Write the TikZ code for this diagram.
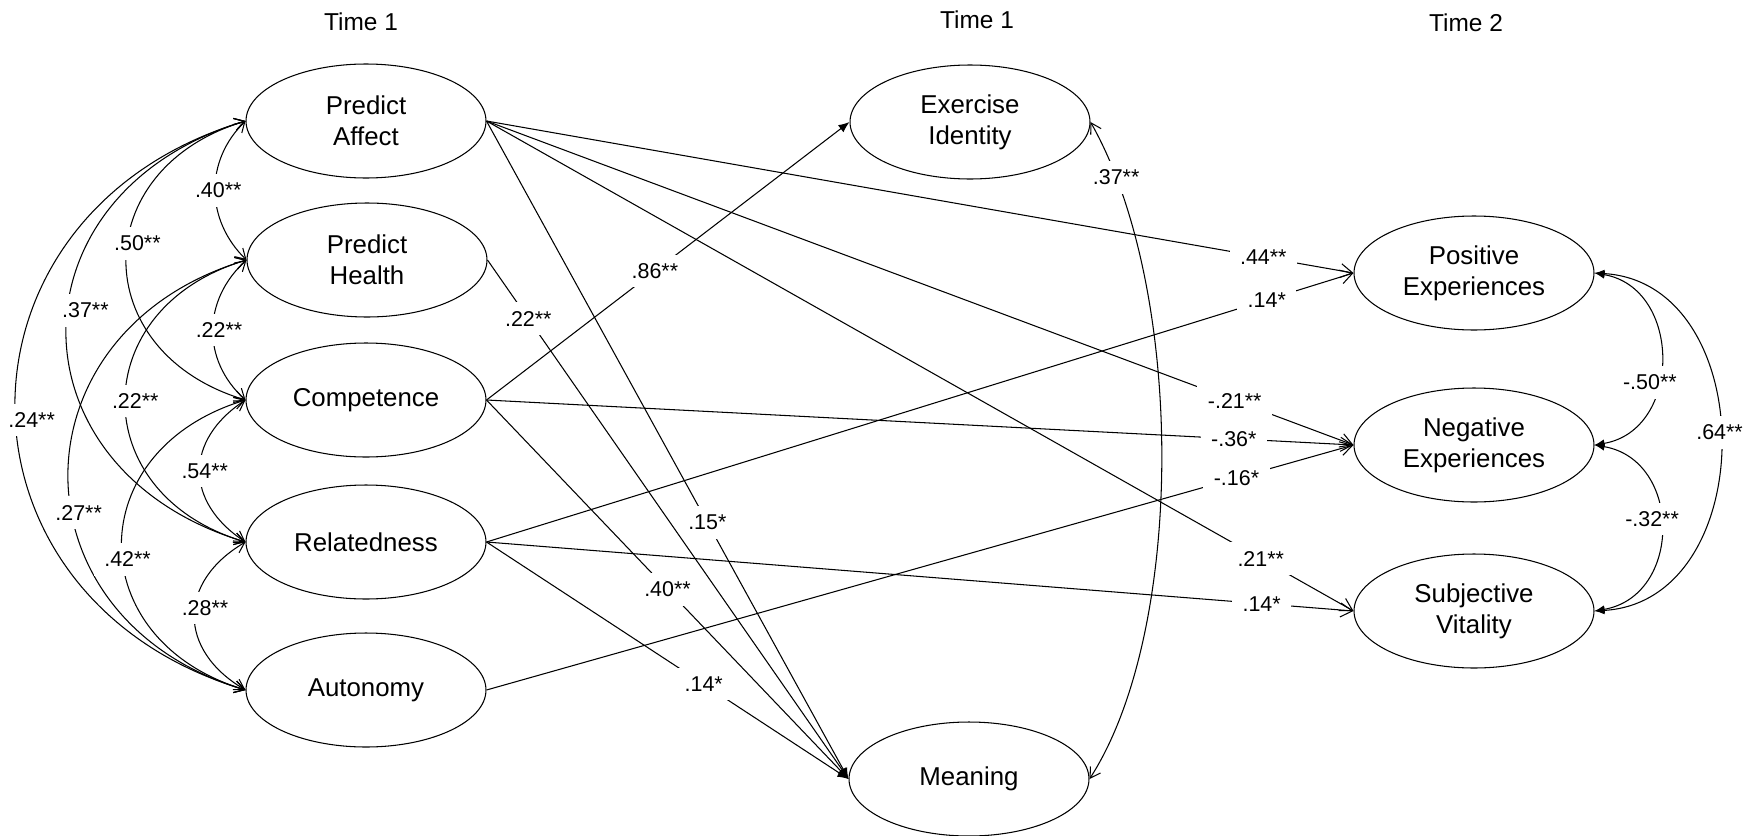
\documentclass[tikz,border=0pt]{standalone}
\usepackage{fontspec}
\setmainfont{Liberation Sans}
\usetikzlibrary{shapes.geometric,arrows.meta}

\tikzset{
  factor/.style={draw, ellipse, minimum width=4.8cm, minimum height=2.28cm,
    inner sep=0pt, align=center, font=\fontsize{14.7}{17.6}\selectfont},
  heading/.style={font=\fontsize{13.9}{16}\selectfont},
  coef/.style={fill=white, inner xsep=6pt, inner ysep=5pt, font=\fontsize{12.2}{14}\selectfont},
  reg/.style={-{Straight Barb[length=2.4mm,width=2.8mm]}},
  regf/.style={-{Latex[length=2.2mm,width=1.8mm]}},
  cov/.style={{Straight Barb[length=2mm,width=2.4mm]}-{Straight Barb[length=2mm,width=2.4mm]}},
  covf/.style={{Latex[length=2mm,width=1.6mm]}-{Latex[length=2mm,width=1.6mm]}},
  lx/.style={xshift=#1*0.02cm},
}

\begin{document}
\begin{tikzpicture}[x=0.02cm, y=-0.02cm, line width=0.6pt]
\useasboundingbox (0,0) rectangle (1754,835);

% headings
\node[heading] (hdA) at (361,22) {Time 1};
\node[heading] (hdB) at (977,20) {Time 1};
\node[heading] (hdC) at (1466,23) {Time 2};

% time 1 predictors
\node[factor] (PA) at (366,121) {Predict\\Affect};
\node[factor] (PH) at (367,260) {Predict\\Health};
\node[factor] (Comp) at (366,400) {Competence};
\node[factor] (Rel) at (366,542) {Relatedness};
\node[factor] (Aut) at (366,690) {Autonomy};

% time 1 mediators
\node[factor] (EI) at (970,122) {Exercise\\Identity};
\node[factor] (Mean) at (969,779) {Meaning};

% time 2 outcomes
\node[factor] (Pos) at (1474,273) {Positive\\Experiences};
\node[factor] (Neg) at (1474,445) {Negative\\Experiences};
\node[factor] (Vit) at (1474,611) {Subjective\\Vitality};

% correlations among predictors
\draw[cov] (PA.west) .. controls +(-307,92) and +(-307,-92) .. (Aut.west) node[coef,pos=0.52,lx=16] {.24**};
\draw[cov] (PA.west) .. controls +(-239,72) and +(-239,-72) .. (Rel.west) node[coef,pos=0.46,lx=18] {.37**};
\draw[cov] (PH.west) .. controls +(-237,71) and +(-237,-71) .. (Aut.west) node[coef,pos=0.57,lx=7] {.27**};
\draw[cov] (PA.west) .. controls +(-159,48) and +(-159,-48) .. (Comp.west) node[coef,pos=0.45,lx=10] {.50**};
\draw[cov] (PH.west) .. controls +(-161,48) and +(-161,-48) .. (Rel.west) node[coef,pos=0.5,lx=10] {.22**};
\draw[cov] (Comp.west) .. controls +(-165,50) and +(-165,-50) .. (Aut.west) node[coef,pos=0.54,lx=5] {.42**};
\draw[cov] (PA.west) .. controls +(-41,40) and +(-41,-40) .. (PH.west) node[coef,pos=0.5,lx=3] {.40**};
\draw[cov] (PH.west) .. controls +(-44,40) and +(-44,-40) .. (Comp.west) node[coef,pos=0.5,lx=6] {.22**};
\draw[cov] (Comp.west) .. controls +(-61,40) and +(-61,-40) .. (Rel.west) node[coef,pos=0.5,lx=5] {.54**};
\draw[cov] (Rel.west) .. controls +(-68,40) and +(-68,-40) .. (Aut.west) node[coef,pos=0.45,lx=10] {.28**};

% mediators
\draw[cov] (EI.east) .. controls +(95,168) and +(96,-149) .. (Mean.east) node[coef,pos=0.1] {.37**};

% outcomes
\draw[covf] (Pos.east) .. controls +(167,10) and +(167,-10) .. (Vit.east) node[coef,pos=0.48] {.64**};
\draw[covf] (Pos.east) .. controls +(88,15) and +(88,-15) .. (Neg.east) node[coef,pos=0.6,lx=-8] {-.50**};
\draw[covf] (Neg.east) .. controls +(88,15) and +(88,-15) .. (Vit.east) node[coef,pos=0.46,lx=-8] {-.32**};

% paths
\draw[reg] (PA.east) -- (Pos.west) node[coef,pos=0.896] {.44**};
\draw[reg] (PA.east) -- (Neg.west) node[coef,pos=0.863] {-.21**};
\draw[reg] (PA.east) -- (Vit.west) node[coef,pos=0.893] {.21**};
\draw[regf] (PA.east) -- (Mean.west) node[coef,pos=0.61] {.15*};
\draw[regf] (PH.east) -- (Mean.west) node[coef,pos=0.113] {.22**};
\draw[regf] (Comp.east) -- (EI.west) node[coef,pos=0.464] {.86**};
\draw[reg] (Comp.east) -- (Neg.west) node[coef,pos=0.862] {-.36*};
\draw[regf] (Comp.east) -- (Mean.west) node[coef,pos=0.5] {.40**};
\draw[reg] (Rel.east) -- (Pos.west) node[coef,pos=0.9] {.14*};
\draw[reg] (Rel.east) -- (Vit.west) node[coef,pos=0.894] {.14*};
\draw[regf] (Rel.east) -- (Mean.west) node[coef,pos=0.6] {.14*};
\draw[reg] (Aut.east) -- (Neg.west) node[coef,pos=0.865] {-.16*};

\end{tikzpicture}
\end{document}
